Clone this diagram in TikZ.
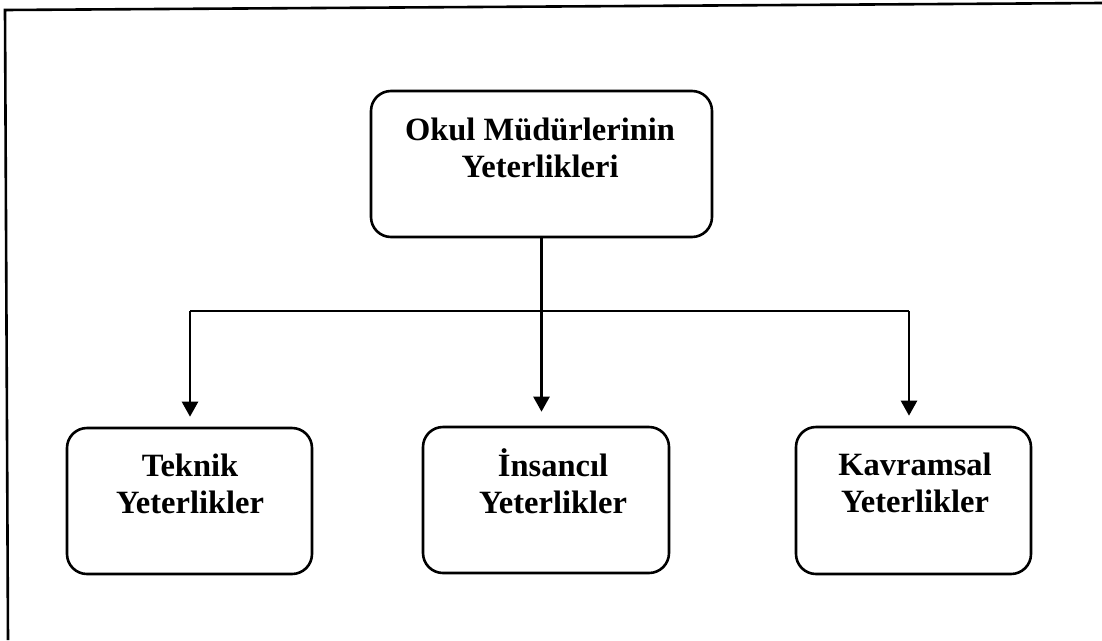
\documentclass[tikz,border=0pt]{standalone}
\usepackage{fontspec}
\setmainfont{Liberation Serif}
\usetikzlibrary{arrows.meta}
\begin{document}
\begin{tikzpicture}[x=1pt,y=-1pt,
  boxnode/.style={draw,rounded corners=20pt,line width=2.6pt,inner sep=0pt},
  labeltext/.style={align=center,inner sep=0pt,font=\bfseries\fontsize{32.5}{37.5}\selectfont},
  conn/.style={line width=2.2pt},
  arr/.style={line width=2.4pt,-{Triangle[width=16pt,length=15pt]}}]
\useasboundingbox (0,0) rectangle (1102,640);
% outer frame (top and left edges only)
\coordinate (frTL) at (5,10);
\coordinate (frTR) at (1102,3);
\coordinate (frBL) at (8,640);
\draw[line width=2.6pt] (frBL) -- (frTL) -- (frTR);
% boxes
\node[boxnode,minimum width=341pt,minimum height=146pt] (top) at (541.5,164) {};
\node[boxnode,minimum width=245pt,minimum height=146pt] (tek) at (189.5,501) {};
\node[boxnode,minimum width=246pt,minimum height=146pt] (ins) at (546,500) {};
\node[boxnode,minimum width=235pt,minimum height=147pt] (kav) at (913.5,500.5) {};
% texts
\node[labeltext] (topT) at (540,148) {Okul Müdürlerinin\\Yeterlikleri};
\node[labeltext] (tekT) at (190,484) {Teknik\\Yeterlikler};
\node[labeltext] (insT) at (553,481) {İnsancıl\\Yeterlikler};
\node[labeltext] (kavT) at (915,483) {Kavramsal\\Yeterlikler};
% connectors
\coordinate (busL) at (190,311);
\coordinate (busR) at (909,311);
\draw[conn] (busL) -- (busR);
\draw[arr,shorten >=14pt] (top.south) -- (top.south |- ins.north);
\draw[arr,shorten >=10pt] (busL) -- (busL |- tek.north);
\draw[arr,shorten >=10pt] (busR) -- (busR |- kav.north);
\end{tikzpicture}
\end{document}
